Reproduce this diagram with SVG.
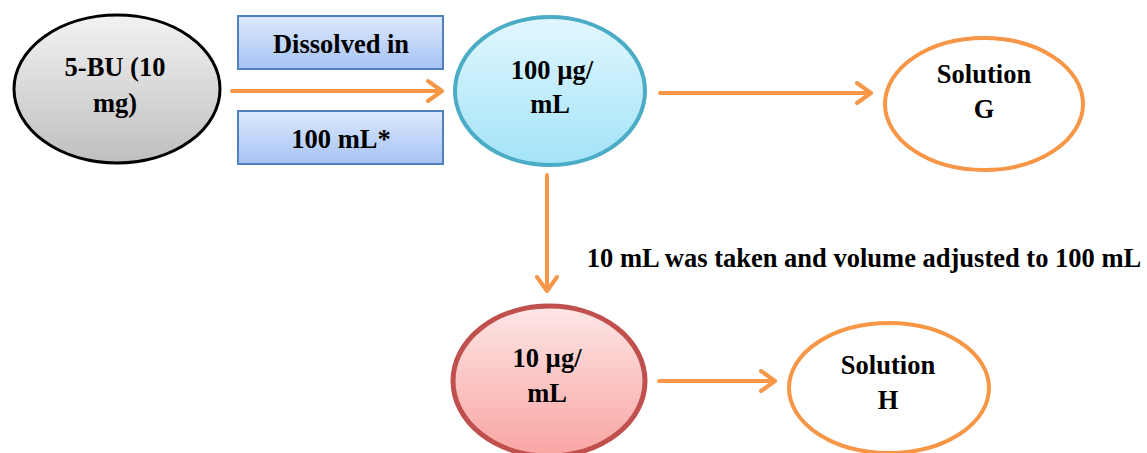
<svg xmlns="http://www.w3.org/2000/svg" width="1147" height="453" viewBox="0 0 1147 453">
<style>
text{font-family:"Liberation Serif","Times New Roman",serif;font-weight:bold;font-size:26.5px;fill:#000;text-anchor:middle;dominant-baseline:central}
.conn{stroke:#f79646;stroke-width:4;fill:none;stroke-linecap:round;stroke-linejoin:round}
.box{fill:url(#gBox);stroke:#4f81bd;stroke-width:2}
.sol{fill:#fff;stroke:#f79646;stroke-width:4}
</style>
<defs>
<linearGradient id="gGray" x1="0" y1="0" x2="0" y2="1"><stop offset="0" stop-color="#f2f2f2"/><stop offset="1" stop-color="#bfbfbf"/></linearGradient>
<linearGradient id="gBox" x1="0" y1="0" x2="0" y2="1"><stop offset="0" stop-color="#dde9fc"/><stop offset="1" stop-color="#a6c3f4"/></linearGradient>
<linearGradient id="gBlue" x1="0" y1="0" x2="0" y2="1"><stop offset="0" stop-color="#e2f7fe"/><stop offset="1" stop-color="#a3e3f8"/></linearGradient>
<linearGradient id="gRed" x1="0" y1="0" x2="0" y2="1"><stop offset="0" stop-color="#fde6e6"/><stop offset="1" stop-color="#f8a5a2"/></linearGradient>
</defs>
<g id="connectors">
<path class="conn" d="M232 91H442M428 81L442 91L428 101"/>
<path class="conn" d="M660 93H871M857 83L871 93L857 103"/>
<path class="conn" d="M547 175V291M537 277L547 291L557 277"/>
<path class="conn" d="M659 381H775M761 371L775 381L761 391"/>
</g>
<g id="node-5bu"><ellipse cx="117" cy="89" rx="103" ry="74" fill="url(#gGray)" stroke="#000" stroke-width="3"/><text x="115" y="67">5-BU (10</text><text x="115" y="103">mg)</text></g>
<g id="label-dissolved"><rect class="box" x="238" y="16" width="205" height="53"/><text x="341" y="44">Dissolved in</text></g>
<g id="label-100ml"><rect class="box" x="238" y="111" width="205" height="53"/><text x="341" y="139">100 mL*</text></g>
<g id="node-100ug"><ellipse cx="550" cy="91" rx="95" ry="74" fill="url(#gBlue)" stroke="#4bacc6" stroke-width="4"/><text x="552" y="70">100 µg/</text><text x="550" y="104">mL</text></g>
<g id="node-solG"><ellipse class="sol" cx="984" cy="104" rx="99" ry="66"/><text x="984" y="74">Solution</text><text x="984" y="109">G</text></g>
<g id="label-dilution"><text x="864" y="258">10 mL was taken and volume adjusted to 100 mL</text></g>
<g id="node-10ug"><ellipse cx="549" cy="381" rx="96" ry="75" fill="url(#gRed)" stroke="#c0504d" stroke-width="5"/><text x="547" y="358">10 µg/</text><text x="547" y="393">mL</text></g>
<g id="node-solH"><ellipse class="sol" cx="889" cy="388" rx="100" ry="65"/><text x="888" y="365">Solution</text><text x="888" y="400">H</text></g>
</svg>
